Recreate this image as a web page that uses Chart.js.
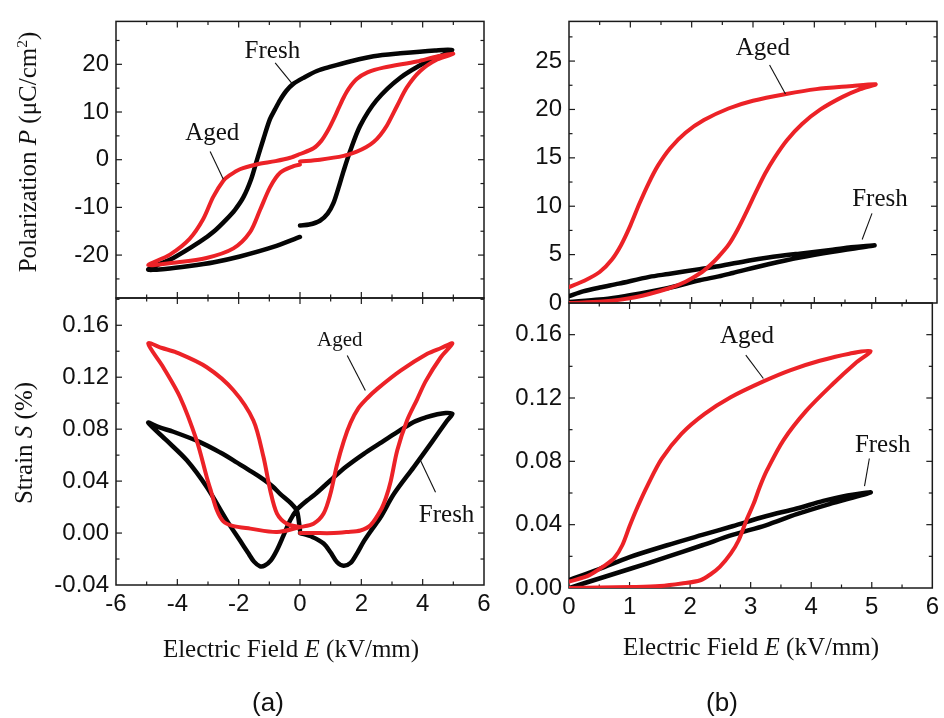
<!DOCTYPE html>
<html><head><meta charset="utf-8">
<script src="https://cdn.jsdelivr.net/npm/chart.js@4/dist/chart.umd.min.js"></script>
<style>
html,body{margin:0;padding:0;background:#fff;}
#wrap{position:relative;width:944px;height:718px;overflow:hidden;background:#fff;}
canvas{position:absolute;left:0;top:0;}
.t{position:absolute;white-space:nowrap;font-family:"Liberation Serif","Times New Roman",serif;font-size:25px;color:#111;transform:translate(-50%,-50%);line-height:1;}
.rot{transform:translate(-50%,-50%) rotate(-90deg);}
.lab{font-family:"Liberation Sans",Arial,sans-serif;font-size:26px;}
.t sup{font-size:62%;vertical-align:0.55em;line-height:0;}
</style></head><body>
<div id="wrap">
<canvas id="cTL" width="944" height="718"></canvas>
<canvas id="cBL" width="944" height="718"></canvas>
<canvas id="cTR" width="944" height="718"></canvas>
<canvas id="cBR" width="944" height="718"></canvas>
<div class="t rot" style="left:27px;top:152px;">Polarization <i>P</i> (μC/cm<sup>2</sup>)</div>
<div class="t rot" style="left:23px;top:443px;">Strain <i>S</i> (%)</div>
<div class="t" style="left:291px;top:648px;">Electric Field <i>E</i> (kV/mm)</div>
<div class="t" style="left:751px;top:646px;">Electric Field <i>E</i> (kV/mm)</div>
<div class="t lab" style="left:268px;top:702px;">(a)</div>
<div class="t lab" style="left:722px;top:702px;">(b)</div>
</div>
<script>
// ---------- DATA ----------
// (a) bipolar polarization P (µC/cm²) vs E (kV/mm)
const bipolarP_fresh = [[0,-13.8],[0.3,-13.6],[0.65,-12.8],[0.9,-11.3],[1.09,-9.1],[1.25,-6.0],[1.42,-2.4],[1.63,1.7],[1.96,7.1],[2.5,12.5],[3.27,17.2],[4.14,20.6],[4.6,21.8],[4.96,23.0],
  [4.4,22.9],[3.27,22.3],[2.4,21.7],[1.63,20.6],[1.0,19.5],[0.55,18.6],[0.15,17.3],[-0.22,15.9],[-0.45,14.4],[-0.65,12.5],[-0.82,10.5],[-0.98,8.5],[-1.19,4.4],[-1.42,-0.4],[-1.6,-4.2],[-1.84,-7.8],[-2.12,-10.5],[-2.4,-12.5],[-2.8,-15.0],[-3.26,-17.2],[-4.13,-20.6],[-4.95,-23.0],
  [-4.4,-22.9],[-3.6,-22.3],[-2.8,-21.5],[-1.96,-20.3],[-0.87,-18.3],[0,-16.2]];
const bipolarP_aged = [[0,-0.4],[0.65,0],[1.42,0.8],[1.85,1.7],[2.15,2.6],[2.4,3.7],[2.62,5.2],[2.83,7.1],[3.16,11.2],[3.49,15.2],[3.92,18.6],[4.47,21.0],[5.0,22.2],
  [4.5,21.7],[3.81,20.6],[2.72,19.3],[2.2,18.3],[1.85,16.9],[1.6,15.0],[1.42,13.0],[1.26,10.8],[1.09,8.4],[0.9,6.0],[0.7,4.0],[0.44,2.4],[0,1.2],[-0.32,0.4],[-0.8,-0.3],[-1.42,-1.0],[-1.96,-2.0],[-2.3,-3.3],[-2.5,-4.4],[-2.83,-7.8],[-3.16,-12.5],[-3.6,-16.6],[-4.24,-19.9],[-4.95,-22.1],
  [-4.13,-21.6],[-3.05,-20.6],[-2.17,-18.6],[-1.63,-15.2],[-1.3,-10.5],[-0.97,-5.7],[-0.64,-2.7],[-0.21,-1.35],[0,-1.0]];
// (a) bipolar strain S (%)
const bipolarS_fresh = [[0,0],[0.4,-0.003],[0.77,-0.008],[1.0,-0.015],[1.21,-0.0225],[1.42,-0.0252],[1.65,-0.023],[1.85,-0.016],[2.09,-0.006],[2.35,0.003],[2.63,0.0123],[3.06,0.030],[3.71,0.0508],[4.3,0.070],[4.8,0.0867],[4.97,0.092],
  [4.75,0.0925],[4.48,0.0915],[4.1,0.089],[3.71,0.0855],[3.17,0.0777],[2.6,0.069],[2.08,0.061],[1.5,0.051],[0.99,0.0405],[0.5,0.030],[0.23,0.025],[-0.1,0.018],[-0.32,0.0098],[-0.54,-0.002],[-0.75,-0.013],[-0.95,-0.021],[-1.15,-0.025],[-1.3,-0.0256],[-1.5,-0.022],[-1.7,-0.015],[-1.95,-0.006],[-2.39,0.0098],[-3.04,0.0354],[-3.69,0.056],[-4.35,0.0713],[-4.95,0.085],
  [-4.6,0.0815],[-4.13,0.078],[-3.26,0.070],[-2.6,0.062],[-2.17,0.056],[-1.7,0.049],[-1.3,0.043],[-0.9,0.036],[-0.64,0.030],[-0.3,0.023],[-0.1,0.017],[0,0.002]];
const bipolarS_aged = [[0,0],[0.44,0],[1.1,0],[1.53,0.0008],[1.97,0.002],[2.3,0.006],[2.63,0.0175],[2.8,0.027],[2.96,0.040],[3.17,0.0636],[3.49,0.0867],[3.82,0.103],[4.1,0.117],[4.58,0.135],[4.97,0.146],
  [4.6,0.1425],[4.15,0.138],[3.28,0.125],[2.52,0.111],[2.2,0.104],[1.9,0.096],[1.65,0.085],[1.43,0.071],[1.2,0.052],[0.99,0.030],[0.77,0.015],[0.44,0.0072],[0,0.0046],[-0.75,0.0008],[-1.62,0.0034],[-2.2,0.0055],[-2.5,0.009],[-2.71,0.0175],[-2.9,0.032],[-3.04,0.043],[-3.37,0.0713],[-3.91,0.1046],[-4.46,0.1277],[-4.95,0.146],
  [-4.5,0.1425],[-4.02,0.139],[-3.04,0.1277],[-2.17,0.11],[-1.52,0.0867],[-1.19,0.0585],[-0.97,0.0328],[-0.75,0.015],[-0.43,0.0072],[0,0.0046]];
// (b) unipolar polarization P
const unipolarP_fresh = [[0,0.1],[0.5,0.35],[0.81,0.6],[1.04,0.85],[1.62,1.55],[2.13,2.35],[2.44,2.75],[2.67,3.1],[3.25,4.0],[3.76,4.7],[4.3,5.3],[4.98,5.95],
  [4.6,5.75],[4.3,5.5],[3.76,5.1],[3.25,4.7],[2.94,4.4],[2.44,3.8],[2.13,3.5],[1.62,3.0],[1.31,2.7],[0.81,2.0],[0.5,1.6],[0.23,1.2],[0,0.7]];
const unipolarP_aged = [[0,0],[0.54,0.15],[1.08,0.6],[1.62,1.5],[1.9,2.2],[2.17,3.2],[2.3,3.9],[2.44,4.8],[2.6,6.0],[2.75,7.6],[2.9,9.5],[3.05,11.5],[3.2,13.4],[3.35,15.0],[3.55,16.8],[3.8,18.5],[4.1,20.0],[4.46,21.3],[4.75,22.1],[5.0,22.6],
  [4.57,22.4],[4.03,22.1],[3.54,21.6],[3.0,20.9],[2.6,20.1],[2.2,18.9],[1.9,17.6],[1.65,16.0],[1.45,14.2],[1.3,12.4],[1.15,10.3],[1.0,8.0],[0.85,6.0],[0.7,4.5],[0.5,3.2],[0.25,2.3],[0,1.65]];
// (b) unipolar strain S
const unipolarS_fresh = [[0,0],[0.5,0.006],[1.0,0.012],[1.62,0.0196],[2.2,0.027],[2.7,0.0335],[3.25,0.0396],[3.76,0.0466],[4.3,0.053],[4.98,0.0603],
  [4.6,0.0585],[4.2,0.055],[3.76,0.0502],[3.25,0.0453],[2.7,0.039],[2.2,0.0335],[1.62,0.027],[1.0,0.0195],[0.5,0.012],[0,0.005]];
const unipolarS_aged = [[0,0],[0.5,0.0003],[1.04,0.0006],[1.5,0.0012],[1.86,0.0028],[2.17,0.0049],[2.35,0.009],[2.49,0.0133],[2.67,0.0217],[2.8,0.030],[2.93,0.0428],[3.05,0.0533],[3.15,0.0638],[3.27,0.0744],[3.54,0.0933],[3.92,0.112],[4.36,0.129],[4.73,0.142],[4.98,0.1496],
  [4.63,0.148],[4.14,0.1435],[3.65,0.1375],[3.21,0.1305],[2.67,0.1205],[2.24,0.110],[1.86,0.0975],[1.53,0.0815],[1.3,0.065],[1.13,0.051],[1.0,0.039],[0.88,0.027],[0.75,0.019],[0.6,0.0145],[0.33,0.008],[0,0.004]];

// tick labels
const xTicksBipolar = [-6,-4,-2,0,2,4,6];
const xTicksUnipolar = [0,1,2,3,4,5,6];
const yTicksBipolarP = [-20,-10,0,10,20];
const yTicksBipolarS = [-0.04,0,0.04,0.08,0.12,0.16];
const yTicksUnipolarP = [0,5,10,15,20,25];
const yTicksUnipolarS = [0,0.04,0.08,0.12,0.16];
const seriesNames = ['Fresh','Aged'];

// ---------- STYLE / LAYOUT ----------
const BLACK = '#050505', RED = '#ec2227';
const TICKFONT = {family:'"Liberation Sans", Arial, sans-serif', size:24};
const ANNFONT = '"Liberation Serif", "Times New Roman", serif';

const framePlugin = {
  id: 'frame',
  beforeDatasetsDraw(chart, args, o) {
    const {ctx, chartArea: a, scales: {x, y}} = chart;
    ctx.save();
    ctx.strokeStyle = '#1a1a1a';
    ctx.lineWidth = 1.5;
    ctx.strokeRect(a.left, a.top, a.right - a.left, a.bottom - a.top);
    ctx.lineWidth = 1.2;
    const seg = (x1, y1, x2, y2) => { ctx.beginPath(); ctx.moveTo(x1, y1); ctx.lineTo(x2, y2); ctx.stroke(); };
    const eps = 1e-9;
    for (let v = o.xmin; v <= o.xmax + eps; v += o.xMinor) {
      const isMajor = Math.abs(Math.round(v / o.xMajor) * o.xMajor - v) < 1e-6;
      const len = isMajor ? 6 : 3.5;
      const px = x.getPixelForValue(v);
      if (px <= a.left + 0.5 || px >= a.right - 0.5) continue;
      seg(px, a.bottom, px, a.bottom - len);
      seg(px, a.top, px, a.top + len);
    }
    const start = Math.ceil((o.ymin - eps) / o.yMinor) * o.yMinor;
    for (let v = start; v <= o.ymax + eps; v += o.yMinor) {
      const isMajor = Math.abs(Math.round(v / o.yMajor) * o.yMajor - v) < 1e-6;
      const len = isMajor ? 6 : 3.5;
      const py = y.getPixelForValue(v);
      if (py <= a.top + 0.5 || py >= a.bottom - 0.5) continue;
      seg(a.left, py, a.left + len, py);
      seg(a.right, py, a.right - len, py);
    }
    ctx.restore();
  },
  afterDatasetsDraw(chart, args, o) {
    const {ctx, scales: {x, y}} = chart;
    ctx.save();
    (o.notes || []).forEach(n => {
      ctx.font = n.size + 'px ' + ANNFONT;
      ctx.fillStyle = '#111';
      ctx.textAlign = 'center';
      ctx.textBaseline = 'alphabetic';
      ctx.fillText(n.text, x.getPixelForValue(n.x), y.getPixelForValue(n.y));
      ctx.strokeStyle = '#111';
      ctx.lineWidth = 1.1;
      ctx.beginPath();
      ctx.moveTo(x.getPixelForValue(n.line[0]), y.getPixelForValue(n.line[1]));
      ctx.lineTo(x.getPixelForValue(n.line[2]), y.getPixelForValue(n.line[3]));
      ctx.stroke();
    });
    ctx.restore();
  }
};

function toPts(arr) { return arr.map(([x, y]) => ({x, y})); }

function makePanel(id, cfg) {
  const ds = (pts, color, w, label) => ({
    label, data: toPts(pts), showLine: true, borderColor: color, backgroundColor: color,
    borderWidth: w, pointRadius: 0, tension: 0.3, fill: false,
    borderCapStyle: 'round', borderJoinStyle: 'round'
  });
  return new Chart(document.getElementById(id), {
    type: 'scatter',
    data: { datasets: [ds(cfg.aged, RED, 4, seriesNames[1]), ds(cfg.fresh, BLACK, 4.5, seriesNames[0])] },
    options: {
      responsive: false, animation: false, events: [],
      layout: { padding: { left: 0, top: cfg.top, right: 944 - cfg.right, bottom: 0 } },
      plugins: {
        legend: { display: false }, tooltip: { enabled: false },
        frame: { xmin: cfg.xmin, xmax: cfg.xmax, xMajor: cfg.xMajor, xMinor: cfg.xMinor,
                 ymin: cfg.ymin, ymax: cfg.ymax, yMajor: cfg.yMajor, yMinor: cfg.yMinor, notes: cfg.notes }
      },
      scales: {
        x: {
          type: 'linear', position: 'bottom', min: cfg.xmin, max: cfg.xmax,
          grid: { display: false, drawTicks: false }, border: { display: false },
          afterBuildTicks: s => { s.ticks = cfg.xTicks.map(v => ({value: v})); },
          afterFit: s => { s.height = 718 - cfg.bottom; },
          ticks: { display: cfg.xLabels, autoSkip: false, maxRotation: 0, minRotation: 0, padding: 5,
                   font: TICKFONT, color: '#111', callback: v => String(v) }
        },
        y: {
          type: 'linear', position: 'left', min: cfg.ymin, max: cfg.ymax,
          grid: { display: false, drawTicks: false }, border: { display: false },
          afterBuildTicks: s => { s.ticks = cfg.yTicks.map(v => ({value: v})); },
          afterFit: s => { s.width = cfg.left; },
          ticks: { autoSkip: false, padding: 7, font: TICKFONT, color: '#111', callback: cfg.yFmt }
        }
      }
    },
    plugins: [framePlugin]
  });
}

makePanel('cTL', {
  fresh: bipolarP_fresh, aged: bipolarP_aged,
  left: 116, right: 484, top: 13, bottom: 298,
  xmin: -6, xmax: 6, xMajor: 2, xMinor: 1, xTicks: xTicksBipolar, xLabels: false,
  ymin: -29, ymax: 29, yMajor: 10, yMinor: 5, yTicks: yTicksBipolarP, yFmt: v => String(v),
  notes: [
    {text: 'Fresh', x: -0.9, y: 21.3, size: 25, line: [-0.81, 20.3, -0.21, 15.6]},
    {text: 'Aged', x: -2.86, y: 4.06, size: 25, line: [-2.93, 1.7, -2.5, -4.1]}
  ]
});
makePanel('cBL', {
  fresh: bipolarS_fresh, aged: bipolarS_aged,
  left: 116, right: 484, top: 298, bottom: 585,
  xmin: -6, xmax: 6, xMajor: 2, xMinor: 1, xTicks: xTicksBipolar, xLabels: true,
  ymin: -0.04, ymax: 0.181, yMajor: 0.04, yMinor: 0.02, yTicks: yTicksBipolarS, yFmt: v => v.toFixed(2),
  notes: [
    {text: 'Aged', x: 1.3, y: 0.1444, size: 21, line: [1.54, 0.1367, 2.13, 0.1097]},
    {text: 'Fresh', x: 4.78, y: 0.0085, size: 25, line: [3.93, 0.0559, 4.42, 0.0315]}
  ]
});
makePanel('cTR', {
  fresh: unipolarP_fresh, aged: unipolarP_aged,
  left: 569, right: 937, top: 16, bottom: 303,
  xmin: 0, xmax: 6, xMajor: 1, xMinor: 0.5, xTicks: xTicksUnipolar, xLabels: false,
  ymin: 0, ymax: 29.1, yMajor: 5, yMinor: 2.5, yTicks: yTicksUnipolarP, yFmt: v => String(v),
  notes: [
    {text: 'Aged', x: 3.16, y: 25.66, size: 25, line: [3.27, 24.6, 3.53, 21.6]},
    {text: 'Fresh', x: 5.07, y: 10.04, size: 25, line: [4.94, 9.26, 4.78, 6.56]}
  ]
});
makePanel('cBR', {
  fresh: unipolarS_fresh, aged: unipolarS_aged,
  left: 569, right: 937, top: 303, bottom: 588,
  xmin: 0, xmax: 6, xMajor: 1, xMinor: 0.5, xTicks: xTicksUnipolar, xLabels: true,
  ymin: 0, ymax: 0.18, yMajor: 0.04, yMinor: 0.02, yTicks: yTicksUnipolarS, yFmt: v => v.toFixed(2),
  notes: [
    {text: 'Aged', x: 2.94, y: 0.1545, size: 25, line: [2.92, 0.1471, 3.21, 0.1323]},
    {text: 'Fresh', x: 5.18, y: 0.0856, size: 25, line: [4.96, 0.0818, 4.88, 0.0643]}
  ]
});
</script>
</body></html>
